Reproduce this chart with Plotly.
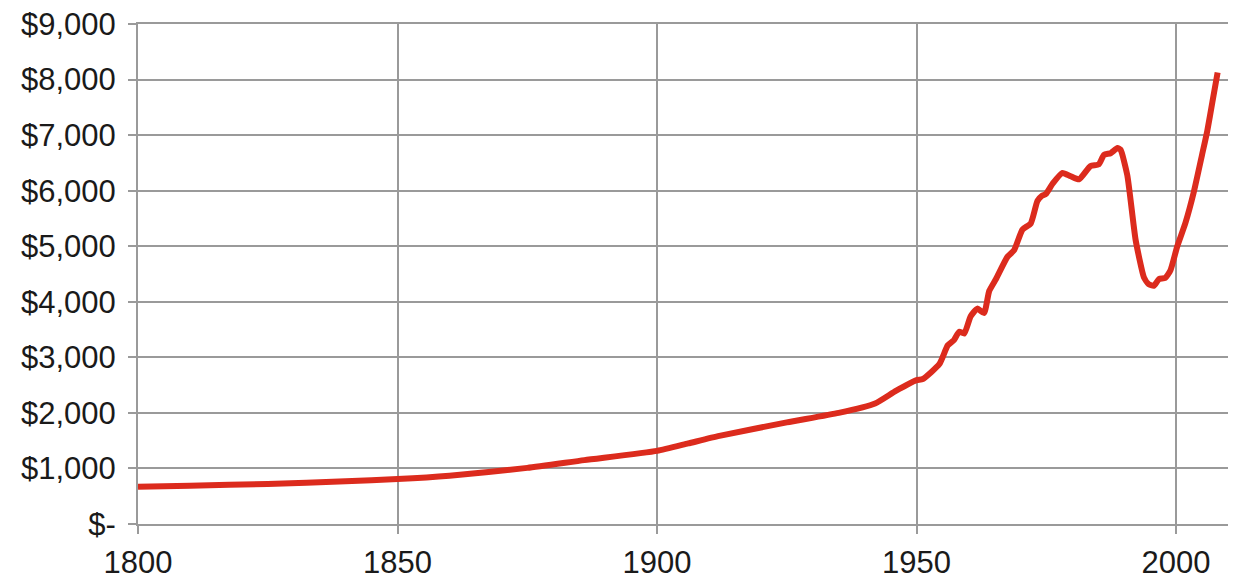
import plotly.graph_objects as go

# values
years = [1800, 1810, 1825, 1840, 1850, 1860, 1875, 1886, 1900, 1906, 1912, 1925,
         1935, 1942, 1946, 1950, 1951.2, 1954.4, 1956, 1957.2, 1958.2, 1959.2,
         1960.4, 1961.7, 1963, 1964, 1965.3, 1967.5, 1968.8, 1970.4, 1972, 1973.3,
         1974.2, 1974.9, 1976.2, 1978.1, 1979.7, 1981.3, 1983.5, 1985.1, 1986.1,
         1987.4, 1988.7, 1989.3, 1990.6, 1992.2, 1993.8, 1994.7, 1995.7, 1996.7,
         1997.9, 1998.9, 2000.2, 2001.8, 2003.4, 2005, 2006, 2007, 2008]
values = [670, 690, 720, 770, 810, 870, 1010, 1150, 1317, 1450, 1585, 1829,
          2000, 2170, 2396, 2590, 2610, 2880, 3215, 3310, 3460, 3430,
          3735, 3877, 3797, 4195, 4410, 4808, 4930, 5300, 5410, 5818,
          5910, 5940, 6124, 6320, 6259, 6204, 6443, 6473, 6645,
          6675, 6767, 6737, 6277, 5114, 4440, 4318, 4287, 4410,
          4428, 4563, 4991, 5420, 5971, 6645, 7073, 7600, 8128]

x_ticks = [1800, 1850, 1900, 1950, 2000]
y_ticks = [0, 1000, 2000, 3000, 4000, 5000, 6000, 7000, 8000, 9000]
y_labels = ['$-'] + [f'${v:,}' for v in y_ticks[1:]]

grid = '#9a9a9a'

fig = go.Figure(go.Scatter(
    x=years,
    y=values,
    mode='lines',
    line=dict(color='#dc2b1d', width=6, shape='spline', smoothing=0.5),
    hoverinfo='x+y',
))

# page body has an 8px margin, so the figure is a little smaller than the window
fig.update_layout(
    width=1250,
    height=576,
    margin=dict(l=130, r=30, t=16, b=60),
    paper_bgcolor='white',
    plot_bgcolor='white',
    showlegend=False,
    font=dict(family='Liberation Sans, Arial, sans-serif', size=31, color='#1a1a1a'),
)

# edge gridlines are dropped by plotly, so draw them as axis lines
fig.update_xaxes(
    range=[1800, 2010],
    tickvals=x_ticks,
    showgrid=True, gridcolor=grid, gridwidth=2,
    showline=True, linecolor=grid, linewidth=2, mirror=True,
    zeroline=False,
    ticks='outside', ticklen=8, tickwidth=2, tickcolor=grid,
    ticklabelstandoff=2,
    ticklabeloverflow='allow',
    automargin=False,
)
fig.update_yaxes(
    range=[0, 9000],
    tickvals=y_ticks,
    ticktext=y_labels,
    showgrid=True, gridcolor=grid, gridwidth=2,
    showline=True, linecolor=grid, linewidth=2,
    zeroline=False,
    ticks='outside', ticklen=8, tickwidth=2, tickcolor=grid,
    ticklabelstandoff=6,
    ticklabeloverflow='allow',
    automargin=False,
)

fig.write_html("out.html")
